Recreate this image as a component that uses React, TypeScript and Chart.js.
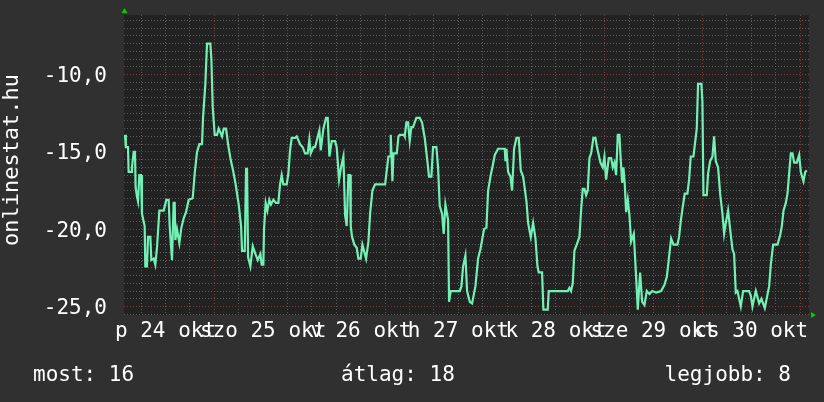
import React, { useEffect, useRef } from "react";
import { Chart, registerables } from "chart.js";

Chart.register(...registerables);

// ---- labels / texts ----
const Y_TITLE = "onlinestat.hu";
const DAY_LABELS = ["p 24 okt", "szo 25 okt", "v 26 okt", "h 27 okt", "k 28 okt", "sze 29 okt", "cs 30 okt"];
const LEGEND_TEXTS = ["most: 16", "átlag: 18", "legjobb: 8"];
const Y_LABEL_VALUES = [-25, -20, -15, -10];
const Y_MINOR_STEP = 0.5;
const X_GRID_STEP_H = 6;

// ---- axis ranges (hours since 24 okt 00:00, negated rank) ----
const X_MIN = 1.8;
const X_MAX = 170.2;
const Y_MIN = -25.55;
const Y_MAX = -6.15;

// ---- series: time (hours since 24 okt 00:00) ----
const TIME_H = [
  2.05, 2.25, 2.78, 2.94, 3.6, 3.76, 4.17, 4.5, 4.66, 4.99, 5.24, 5.57, 5.98, 6.22, 6.63, 6.88, 7.04, 7.45, 7.7, 8.27,
  8.52, 9.09, 9.5, 9.91, 10.49, 11.55, 12.21, 12.78, 13.03, 13.6, 14.01, 14.26, 14.42, 14.83, 15.41, 15.9, 16.47, 17.05,
  17.7, 18.69, 19.18, 19.75, 20.33, 20.98, 21.23, 21.8, 22.21, 23.03, 23.28, 23.61,
  24.1, 24.67, 25.08, 25.9, 26.31, 26.89, 27.38, 27.95, 28.61, 29.18, 30.0, 30.58, 30.82, 31.48, 31.81, 32.05, 32.3,
  32.87, 33.45, 34.1, 34.68, 35.33, 35.65, 36.06, 36.22, 36.63, 37.04, 37.53, 37.94, 38.52, 39.17, 39.75, 40.16, 40.57,
  40.97, 41.8, 42.21, 42.62, 43.03, 43.85, 44.26, 45.08, 45.73, 46.31, 46.96, 47.37, 47.7,
  48.35, 48.77, 49.34, 49.83, 50.16, 50.82, 51.47, 51.88, 52.29, 52.87, 53.69, 54.09, 54.67, 55.16, 55.74, 56.15, 56.55,
  56.97, 57.38, 57.54, 57.87, 58.44, 59.01, 59.42, 60.0, 60.41, 61.31, 61.89, 62.3, 62.87, 63.53, 65.99, 66.8, 67.21,
  67.38, 67.79, 68.04, 68.86, 69.27, 69.58, 70.64, 70.81, 71.22, 71.63,
  72.04, 72.45, 72.86, 73.68, 74.5, 75.07, 75.73, 76.3, 76.79, 77.37, 77.78, 78.6, 79.01, 79.42, 79.99, 80.4, 80.81,
  81.47, 81.71, 82.12, 84.34, 84.75, 85.16, 85.73, 86.14, 86.8, 87.37, 88.19, 88.85, 89.42, 90.32, 90.9, 91.31, 91.96,
  92.37, 92.95, 93.77, 95.41, 95.57, 95.82,
  96.23, 96.8, 97.21, 97.7, 98.28, 98.85, 99.34, 99.92, 100.74, 101.15, 101.8, 102.38, 102.95, 103.44, 103.76, 104.58,
  104.9, 105.97, 106.22, 110.89, 111.3, 111.71, 112.12, 112.53, 113.1, 113.76, 114.17, 114.58, 114.99, 115.4, 115.81,
  116.22, 116.63, 117.2, 117.7, 118.02, 118.43, 118.93, 119.5,
  119.91, 120.32, 120.98, 121.55, 121.96, 122.37, 122.78, 123.19, 123.6, 123.85, 124.26, 124.58, 124.91, 125.24, 125.65,
  126.06, 126.47, 127.13, 127.7, 128.11, 128.68, 129.18, 129.75, 130.32, 130.98, 131.64, 132.62, 133.85, 134.67, 135.24,
  136.31, 136.88, 137.85, 138.26, 138.67, 139.08, 139.65, 140.31, 140.72, 141.13, 141.79, 142.11, 142.61, 142.93, 143.75,
  144.0, 144.25, 145.07, 145.39, 145.89, 146.46, 146.87, 147.28, 147.85, 148.35, 148.92, 149.33, 149.74, 150.31, 150.81,
  151.38, 151.79, 152.2, 152.61, 153.43, 154.0, 155.48, 155.89, 156.3, 157.12, 157.94, 158.51, 159.33, 160.4, 160.81,
  161.38, 162.45, 163.11, 163.52, 163.93, 164.5, 164.91, 165.32, 165.73, 166.14, 166.55, 167.21, 167.78, 168.19, 168.84,
  169.26, 169.67,
];

// ---- series: value (negated rank) ----
const RANK_VALUES = [
  -13.9, -14.7, -14.7, -16.3, -16.3, -16.0, -15.0, -15.0, -17.3, -17.9, -18.2, -16.5, -16.5, -19.0, -19.5, -19.8, -22.4,
  -22.4, -20.5, -20.5, -22.0, -21.9, -22.3, -21.2, -18.8, -18.8, -18.1, -18.1, -19.8, -22.0, -18.3, -18.3, -20.7, -20.0,
  -20.9, -19.9, -19.3, -18.9, -18.1, -18.0, -16.4, -15.0, -14.5, -14.5, -12.8, -10.6, -8.0, -8.0, -9.0, -12.1,
  -13.9, -13.9, -13.5, -14.0, -13.5, -13.5, -14.5, -15.4, -16.2, -17.0, -18.4, -19.8, -21.4, -21.4, -16.1, -16.1, -21.8,
  -22.4, -21.1, -21.6, -22.0, -21.6, -22.3, -22.3, -20.0, -18.3, -18.8, -18.1, -18.4, -18.1, -18.3, -18.3, -17.1, -16.5,
  -17.1, -17.1, -16.4, -14.9, -14.1, -14.1, -14.0, -14.5, -14.7, -15.1, -15.1, -14.2, -15.1,
  -14.7, -14.7, -14.1, -13.6, -14.9, -13.5, -12.8, -12.8, -15.3, -14.3, -14.3, -14.7, -16.8, -16.0, -15.3, -19.1, -19.8,
  -16.5, -16.5, -19.8, -20.5, -21.0, -21.2, -21.9, -21.9, -21.0, -21.9, -20.8, -19.0, -17.5, -17.1, -17.1, -15.3, -15.3,
  -13.9, -16.9, -15.1, -15.1, -14.0, -13.9, -13.9, -14.0, -13.1, -13.1,
  -14.3, -13.4, -13.4, -12.8, -12.8, -13.1, -14.1, -15.4, -16.6, -16.6, -14.7, -14.7, -16.0, -18.5, -19.0, -20.3, -18.4,
  -19.4, -24.7, -24.0, -24.0, -23.7, -22.4, -21.7, -24.0, -24.7, -24.8, -23.7, -21.9, -21.3, -20.0, -19.9, -17.5, -16.5,
  -16.0, -15.2, -14.8, -14.8, -15.6, -14.8,
  -16.3, -16.6, -17.5, -14.8, -14.1, -14.1, -16.2, -16.6, -18.2, -19.6, -20.5, -19.6, -20.6, -22.4, -22.8, -22.8,
  -25.2, -25.2, -24.0, -24.0, -23.8, -24.0, -23.5, -21.4, -21.0, -20.5, -18.8, -17.4, -17.4, -17.8, -17.5,
  -15.4, -15.1, -14.1, -14.1, -14.6, -15.1, -15.7, -16.0,
  -15.3, -16.8, -15.4, -15.4, -16.0, -15.7, -16.5, -13.9, -13.9, -15.2, -17.0, -16.0, -17.1, -18.9, -18.1,
  -19.1, -20.8, -20.3, -23.1, -25.2, -22.8, -24.7, -24.9, -24.0, -24.2, -24.0, -24.1, -24.0, -23.6, -23.1,
  -20.6, -21.0, -21.0, -20.5, -19.5, -18.7, -17.7, -17.7, -16.8, -15.3, -15.3, -14.6, -13.5, -10.6, -10.6,
  -11.8, -17.8, -17.8, -16.4, -15.6, -15.3, -14.0, -15.6, -16.0, -17.7, -19.0, -20.3, -19.6, -18.8, -20.0,
  -21.3, -21.6, -24.1, -24.0, -25.0, -24.0, -24.0, -24.3, -25.0, -24.0, -24.8, -24.5, -25.1, -23.7, -22.3,
  -21.0, -21.0, -20.4, -19.8, -18.8, -18.3, -17.7, -16.4, -15.1, -15.1, -15.7, -15.7, -15.2, -16.3, -16.9,
  -16.3, -16.2,
];

// ---- styles ----
const FONT_FAMILY = "'DejaVu Sans Mono', monospace";
const FONT_SIZE = 21;
const TITLE_FONT_SIZE = 22;
const PAGE_BG = "#303030";
const PLOT_BG = "#222222";
const LINE_COLOR = "#72f0b6";
const GRID_MINOR = "#5c5c5c";
const GRID_MAJOR = "#7e3a3a";
const ARROW_COLOR = "#00cc00";
const TEXT_COLOR = "#ffffff";

const decorPlugin = {
  id: "decor",
  beforeDraw(chart: any) {
    const { ctx, chartArea: a, width, height } = chart;
    ctx.save();
    ctx.fillStyle = PAGE_BG;
    ctx.fillRect(0, 0, width, height);
    ctx.fillStyle = PLOT_BG;
    ctx.fillRect(a.left, a.top, a.right - a.left, a.bottom - a.top);
    ctx.restore();
  },
  afterDraw(chart: any) {
    const { ctx, chartArea: a } = chart;
    ctx.save();
    ctx.fillStyle = ARROW_COLOR;
    ctx.beginPath();
    ctx.moveTo(a.left - 2.5, a.top - 2);
    ctx.lineTo(a.left + 3.5, a.top - 2);
    ctx.lineTo(a.left + 0.5, a.top - 7);
    ctx.closePath();
    ctx.fill();
    ctx.beginPath();
    ctx.moveTo(a.right + 2, a.bottom - 3);
    ctx.lineTo(a.right + 2, a.bottom + 3);
    ctx.lineTo(a.right + 7, a.bottom);
    ctx.closePath();
    ctx.fill();

    ctx.fillStyle = TEXT_COLOR;
    // vertical axis title
    ctx.save();
    ctx.font = `${TITLE_FONT_SIZE}px ${FONT_FAMILY}`;
    ctx.translate(18, 160);
    ctx.rotate(-Math.PI / 2);
    ctx.textAlign = "center";
    ctx.textBaseline = "alphabetic";
    ctx.fillText(Y_TITLE, 0, 0);
    ctx.restore();

    // footer
    ctx.font = `${FONT_SIZE}px ${FONT_FAMILY}`;
    ctx.textBaseline = "alphabetic";
    ctx.textAlign = "left";
    ctx.fillText(LEGEND_TEXTS[0], 33, 381);
    ctx.fillText(LEGEND_TEXTS[1], 341, 381);
    ctx.textAlign = "right";
    ctx.fillText(LEGEND_TEXTS[2], 791, 381);
    ctx.restore();
  },
};

export default function App() {
  const ref = useRef<HTMLCanvasElement | null>(null);

  useEffect(() => {
    if (!ref.current) return;
    const font = { family: FONT_FAMILY, size: FONT_SIZE };
    const chart = new Chart(ref.current, {
      type: "line",
      data: {
        datasets: [
          {
            data: TIME_H.map((t, i) => ({ x: t, y: RANK_VALUES[i] })),
            borderColor: LINE_COLOR,
            borderWidth: 2.2,
            pointRadius: 0,
            tension: 0,
            fill: false,
          },
        ],
      },
      options: {
        animation: false,
        responsive: false,
        events: [],
        layout: { padding: { top: 15, right: 15, left: 0, bottom: 0 } },
        plugins: { legend: { display: false }, tooltip: { enabled: false } },
        scales: {
          x: {
            type: "linear",
            min: X_MIN,
            max: X_MAX,
            afterBuildTicks: (s: any) => {
              const t: any[] = [];
              for (let h = X_GRID_STEP_H; h < X_MAX; h += X_GRID_STEP_H) t.push({ value: h });
              s.ticks = t;
            },
            afterFit: (s: any) => {
              s.height = 87;
              s.paddingLeft = 0;
              s.paddingRight = 0;
            },
            ticks: {
              autoSkip: false,
              maxRotation: 0,
              minRotation: 0,
              color: TEXT_COLOR,
              font,
              padding: 4,
              callback: (v: any) => (v % 24 === 12 ? DAY_LABELS[Math.floor(v / 24)] : ""),
            },
            grid: {
              drawTicks: false,
              lineWidth: 1,
              color: (c: any) => (c.tick && c.tick.value % 24 === 0 ? GRID_MAJOR : GRID_MINOR),
            },
            border: { display: false, dash: [1, 2] },
          },
          y: {
            type: "linear",
            min: Y_MIN,
            max: Y_MAX,
            afterBuildTicks: (s: any) => {
              const t: any[] = [];
              for (let k = Math.ceil(Y_MIN / Y_MINOR_STEP); k * Y_MINOR_STEP <= Y_MAX; k++) t.push({ value: k * Y_MINOR_STEP });
              s.ticks = t;
            },
            afterFit: (s: any) => {
              s.width = 124;
              s.paddingTop = 0;
              s.paddingBottom = 0;
            },
            ticks: {
              autoSkip: false,
              color: TEXT_COLOR,
              font,
              padding: 17,
              labelOffset: 2,
              callback: (v: any) => (Y_LABEL_VALUES.includes(v) ? v.toFixed(1).replace(".", ",") : ""),
            },
            grid: {
              drawTicks: false,
              lineWidth: 1,
              color: (c: any) => (c.tick && c.tick.value % 5 === 0 ? GRID_MAJOR : GRID_MINOR),
            },
            border: { display: false, dash: [1, 2] },
            title: { display: false },
          },
        },
      },
      plugins: [decorPlugin],
    } as any);
    return () => chart.destroy();
  }, []);

  return (
    <div style={{ position: "absolute", left: 0, top: 0, width: 824, height: 402, background: PAGE_BG }}>
      <canvas ref={ref} width={824} height={402} style={{ display: "block" }} />
    </div>
  );
}
